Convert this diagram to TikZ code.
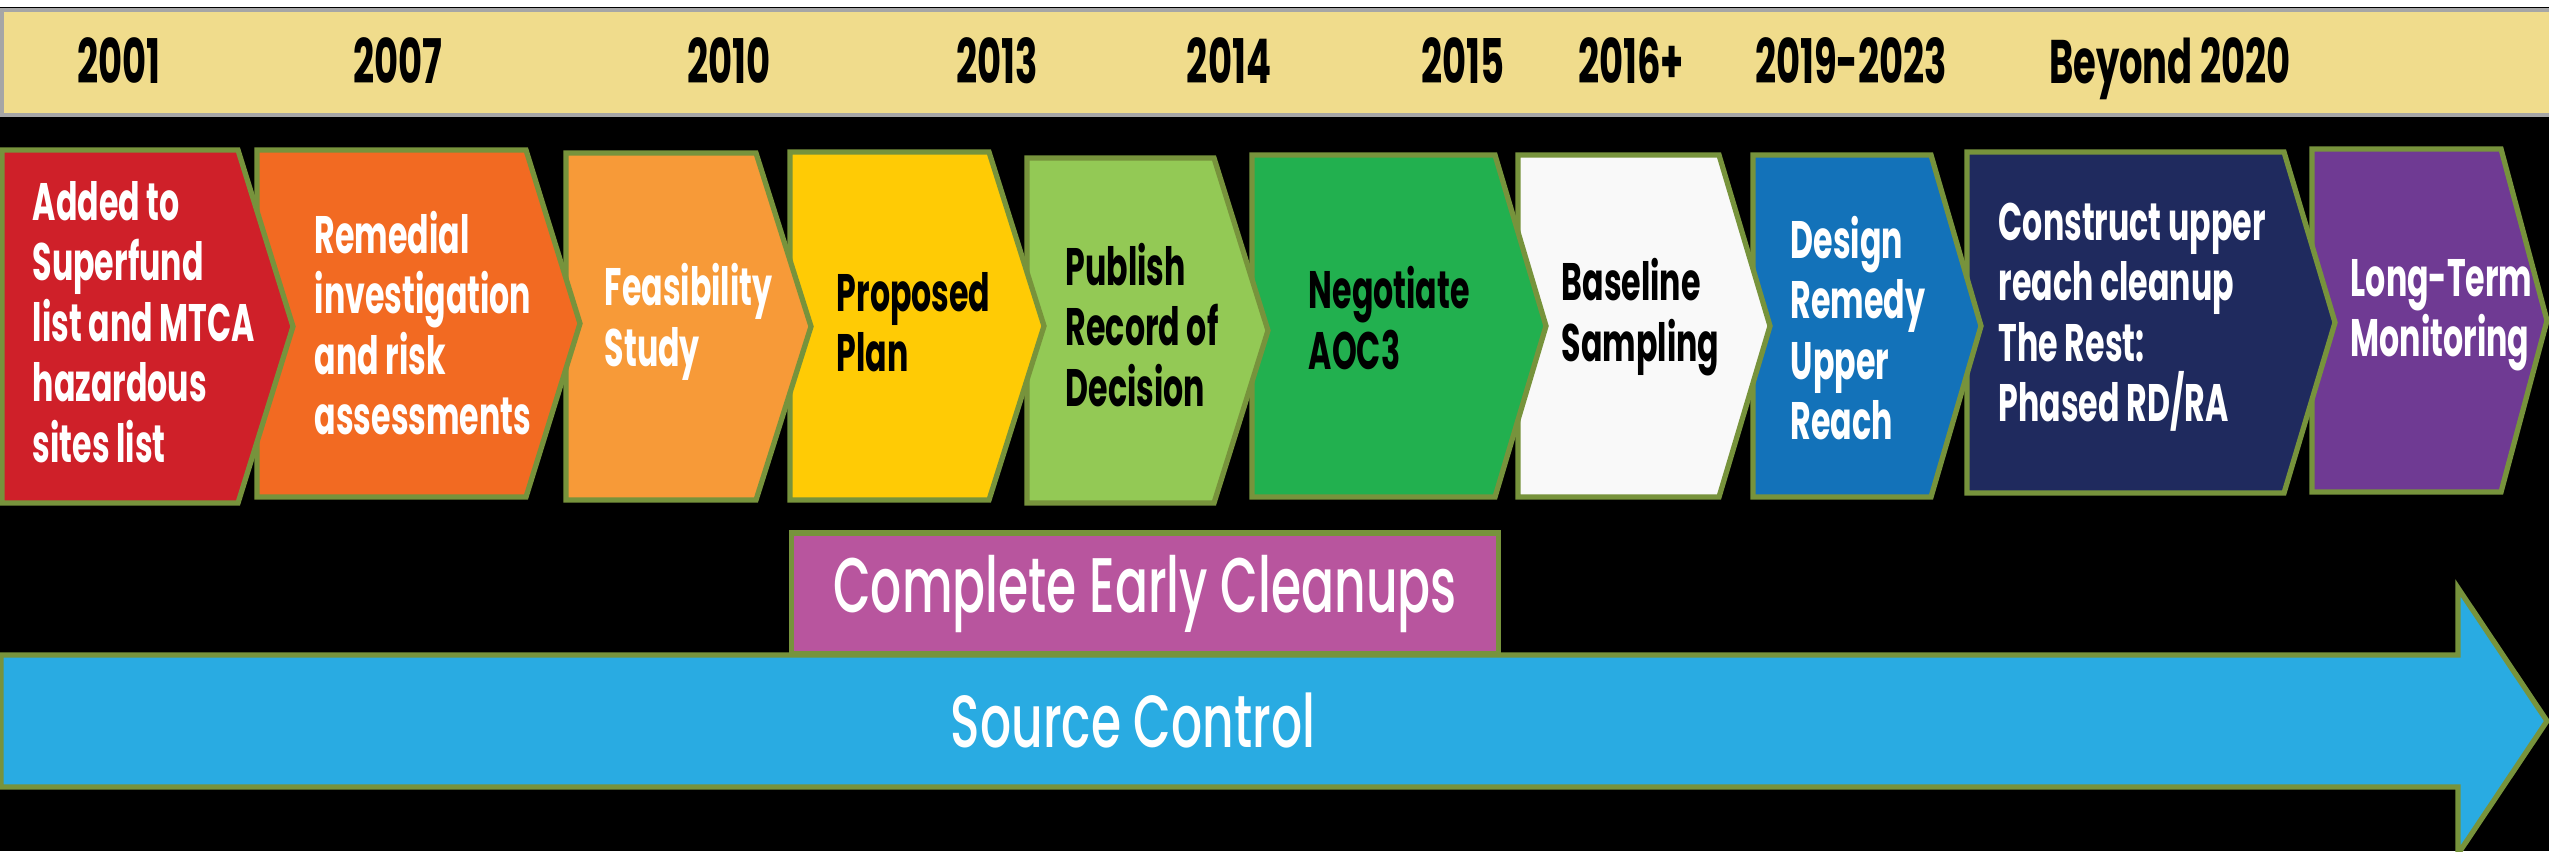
\documentclass[tikz,border=0pt]{standalone}
\usepackage{fontspec}
\setmainfont{Poppins}[FakeStretch=0.6]
\newfontfamily\midfont{Poppins}[FakeStretch=0.63, UprightFont=* Medium]
\newfontfamily\srcfont{Poppins}[FakeStretch=0.66, UprightFont=* Medium]
\usetikzlibrary{positioning}

\definecolor{bandfill}{HTML}{F0DC8C}
\definecolor{bandedge}{HTML}{A6A6A6}
\definecolor{edge}{HTML}{77933C}
\definecolor{cRed}{HTML}{CF2029}
\definecolor{cOrange}{HTML}{F26A22}
\definecolor{cLtOrange}{HTML}{F79A38}
\definecolor{cYellow}{HTML}{FFCB05}
\definecolor{cLtGreen}{HTML}{93C955}
\definecolor{cGreen}{HTML}{22B04F}
\definecolor{cWhite}{HTML}{F9F9F9}
\definecolor{cBlue}{HTML}{1372B9}
\definecolor{cNavy}{HTML}{1F2A5E}
\definecolor{cPurple}{HTML}{6F3A93}
\definecolor{cMagenta}{HTML}{B8559E}
\definecolor{cCyan}{HTML}{29ABE2}

% left, corner, tip, top, bottom, fill
\newcommand\stagechev[6]{%
  \draw[chev, fill=#6] (#1,#4) -- (#2,#4) -- (#3,{(#4+#5)/2}) -- (#2,#5) -- (#1,#5) -- cycle;}

\begin{document}
\begin{tikzpicture}[
    x=0.01cm, y=-0.01cm,
    chev/.style={draw=edge, line width=1.5pt},
    stage/.style={anchor=west, align=left, inner sep=0pt, text=white, font=\bfseries\fontsize{15}{17.2}\selectfont},
    year/.style={anchor=base, inner sep=0pt, font=\bfseries\fontsize{17.5}{20}\selectfont},
    banner/.style={draw=edge, line width=1.5pt, fill=cMagenta, text=white, font=\midfont\fontsize{22}{26}\selectfont}
]
    \useasboundingbox (0,0) rectangle (2549,851);
    \fill[black] (0,7) rectangle (2549,851);

    % Year band
    \draw[draw=bandedge, line width=1.4pt, fill=bandfill] (2,10) rectangle (2560,115);
    \node[year] (y01) at (119,83) {2001};
    \node[year] (y07) at (398,83) {2007};
    \node[year] (y10) at (729,83) {2010};
    \node[year] (y13) at (997,83) {2013};
    \node[year] (y14) at (1229,83) {2014};
    \node[year] (y15) at (1463,83) {2015};
    \node[year] (y16) at (1631,83) {2016+};
    \node[year] (y19) at (1851,83) {2019-2023};
    \node[year] (ybey) at (2170,83) {Beyond 2020};

    % Stages, last one first so each tip lies over the next box
    \stagechev{2312}{2501}{2547}{149}{492}{cPurple}
    \stagechev{1967}{2284}{2335}{152}{493}{cNavy}
    \stagechev{1753}{1931}{1981}{155}{497}{cBlue}
    \stagechev{1518}{1719}{1770}{155}{497}{cWhite}
    \stagechev{1252}{1495}{1546}{155}{497}{cGreen}
    \stagechev{1027}{1214}{1268}{158}{503}{cLtGreen}
    \stagechev{790}{989}{1044}{152}{500}{cYellow}
    \stagechev{566}{756}{811}{153}{500}{cLtOrange}
    \stagechev{257}{526}{580}{150}{497}{cOrange}
    \stagechev{2}{238}{293}{150}{503}{cRed}

    \node[stage] (listed) at (32,322) {Added to\\Superfund\\list and MTCA\\hazardous\\sites list};
    \node[stage] (ri) at (314,323) {Remedial\\investigation\\and risk\\assessments};
    \node[stage] (fs) at (604,322) {Feasibility\\Study};
    \node[stage, text=black] (plan) at (836,322) {Proposed\\Plan};
    \node[stage, text=black] (rod) at (1065,325) {Publish\\Record of\\Decision};
    \node[stage, text=black] (aoc) at (1308,318) {Negotiate\\AOC3};
    \node[stage, text=black] (sampling) at (1561,317) {Baseline\\Sampling};
    \node[stage] (design) at (1790,328) {Design\\Remedy\\Upper\\Reach};
    \node[stage] (build) at (1998,317) {Construct upper\\reach cleanup\\The Rest:\\Phased RD/RA};
    \node[stage] (ltm) at (2350,315) {Long-Term\\Monitoring};

    % Early cleanups
    \node[banner, minimum width=7.06cm, minimum height=1.21cm] (early) at (1145,593.5) {Complete Early Cleanups};

    % Source control arrow
    \draw[chev, fill=cCyan] (1,655) -- (2458,655) -- (2458,588) -- (2547,721) -- (2458,854) -- (2458,787) -- (1,787) -- cycle;
    \node[text=white, font=\srcfont\fontsize{21}{25}\selectfont] (source) at (1133,720) {Source Control};

\end{tikzpicture}
\end{document}
